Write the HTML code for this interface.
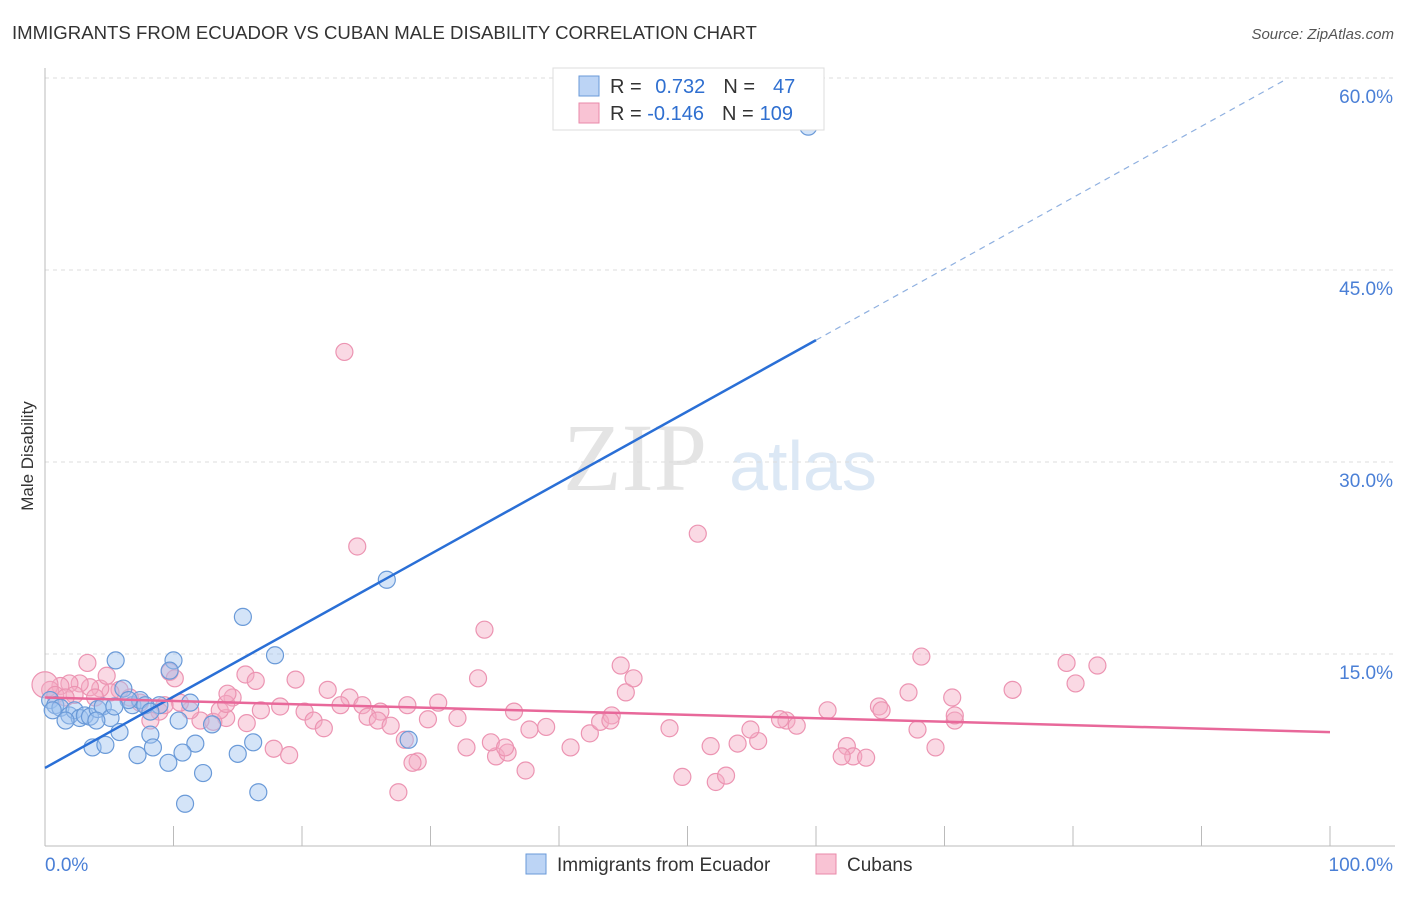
<!DOCTYPE html>
<html><head><meta charset="utf-8">
<style>
body{margin:0;background:#fff;font-family:"Liberation Sans",sans-serif;}
</style></head>
<body>
<svg id="chart" width="1406" height="892" xmlns="http://www.w3.org/2000/svg" font-family="Liberation Sans, sans-serif">
<text x="12" y="39" font-size="18.6" fill="#333">IMMIGRANTS FROM ECUADOR VS CUBAN MALE DISABILITY CORRELATION CHART</text>
<text x="1394" y="39" font-size="15" fill="#555" text-anchor="end" font-style="italic">Source: ZipAtlas.com</text>
<text transform="translate(33,456) rotate(-90)" font-size="17" fill="#333" text-anchor="middle">Male Disability</text>
<g>
<text x="635" y="490" font-size="96" fill="#e4e4e4" style="font-family:'Liberation Serif',serif" text-anchor="middle">ZIP</text>
<text x="803" y="490" font-size="70" fill="#dce8f5" text-anchor="middle">atlas</text>
</g>
<g id="grid"></g>
<g id="axes"></g>
<g id="pts"></g>
<g id="lines"></g>
<g>
<rect x="553" y="68" width="271" height="62" fill="#fff" stroke="#ddd"/>
<rect x="579" y="76" width="20" height="20" fill="#bcd4f5" stroke="#6a9ad8"/>
<rect x="579" y="103" width="20" height="20" fill="#f9c3d4" stroke="#e98aaa"/>
<text x="610" y="93" font-size="20" fill="#333">R = <tspan fill="#2f6fd0" dx="8">0.732</tspan><tspan dx="18" fill="#333">N =</tspan><tspan dx="18" fill="#2f6fd0">47</tspan></text>
<text x="610" y="120" font-size="20" fill="#333">R = <tspan fill="#2f6fd0">-0.146</tspan><tspan dx="18" fill="#333">N =</tspan><tspan dx="6" fill="#2f6fd0">109</tspan></text>
</g>
<g>
<rect x="526" y="854" width="20" height="20" fill="#bcd4f5" stroke="#6a9ad8"/>
<text x="557" y="871" font-size="19" fill="#333">Immigrants from Ecuador</text>
<rect x="816" y="854" width="20" height="20" fill="#f9c3d4" stroke="#e98aaa"/>
<text x="847" y="871" font-size="19" fill="#333">Cubans</text>
</g>
</svg>
<script>
const yTicks=[15,30,45,60];
const yTickLabels=["15.0%","30.0%","45.0%","60.0%"];
const xTickLabels=["0.0%","100.0%"];
const blueX=[59.4,26.6,15.4,17.9,5.5,10.0,9.7,6.1,0.4,0.8,1.2,1.9,2.3,2.7,3.1,3.5,4.1,4.5,5.1,5.8,6.8,7.4,8.2,8.9,10.4,11.7,10.7,8.4,3.7,4.7,7.2,9.6,12.3,15.0,16.2,28.3,16.6,10.9,0.6,1.6,6.5,7.8,13.0,11.3,4.0,8.2,5.4];
const blueY=[56.2,20.8,17.9,14.9,14.5,14.5,13.7,12.3,11.4,11.0,10.8,10.2,10.6,10.0,10.2,10.1,10.7,10.9,10.0,8.9,11.0,11.4,8.7,11.0,9.8,8.0,7.3,7.7,7.7,7.9,7.1,6.5,5.7,7.2,8.1,8.3,4.2,3.3,10.6,9.8,11.4,11.0,9.5,11.2,9.8,10.5,10.9];
const pinkX=[23.3,50.8,24.3,34.2,68.2,79.5,81.9,44.8,3.3,9.7,15.6,16.4,19.5,22.0,23.7,24.7,26.1,28.2,30.6,33.7,36.5,37.7,40.9,42.4,43.2,44.1,45.2,45.8,48.6,51.8,53.9,55.5,57.7,58.5,60.9,64.9,67.2,70.6,75.3,80.2,70.8,67.9,69.3,62.4,62.9,63.9,62.0,49.6,52.2,53.0,37.4,35.1,36.0,29.0,28.6,27.5,17.8,19.0,15.7,14.1,13.1,12.1,11.3,10.5,8.9,7.4,6.6,5.8,5.1,4.3,3.5,2.7,1.9,1.2,0.4,0.0,0.8,2.3,3.9,8.2,9.3,13.6,14.6,16.8,18.3,20.2,20.9,21.7,23.0,25.1,25.9,26.9,28.0,29.8,32.1,32.8,34.7,35.8,39.0,44.0,54.9,57.2,65.1,70.8,10.1,14.1,1.6,4.8,14.2];
const pinkY=[38.6,24.4,23.4,16.9,14.8,14.3,14.1,14.1,14.3,13.6,13.4,12.9,13.0,12.2,11.6,11.0,10.5,11.0,11.2,13.1,10.5,9.1,7.7,8.8,9.7,10.2,12.0,13.1,9.2,7.8,8.0,8.2,9.8,9.4,10.6,10.9,12.0,11.6,12.2,12.7,9.8,9.1,7.7,7.8,7.0,6.9,7.0,5.4,5.0,5.5,5.9,7.0,7.3,6.6,6.5,4.2,7.6,7.1,9.6,10.0,9.7,9.8,10.6,11.2,10.5,11.2,11.6,12.2,12.0,12.3,12.4,12.7,12.7,12.5,12.2,12.6,11.8,11.8,11.6,9.8,11.0,10.6,11.6,10.6,10.9,10.5,9.8,9.2,11.0,10.1,9.8,9.4,8.3,9.9,10.0,7.7,8.1,7.7,9.3,9.8,9.1,9.9,10.6,10.2,13.1,11.1,11.6,13.3,11.9];
const blueTrend=[6.1,0.557];
const pinkTrend=[11.6,-0.027];
const NS="http://www.w3.org/2000/svg";
const X0=45,X1=1330,Y0=846,PY=12.8;
const sx=v=>X0+(X1-X0)*v/100;
const sy=v=>Y0-v*PY;
function mk(tag,attrs,parent){const e=document.createElementNS(NS,tag);for(const k in attrs)e.setAttribute(k,attrs[k]);parent.appendChild(e);return e;}
const grid=document.getElementById('grid'),axes=document.getElementById('axes'),pts=document.getElementById('pts'),lines=document.getElementById('lines');
yTicks.forEach((t,i)=>{
 const g=mk('line',{x1:45,x2:1395,y1:sy(t),y2:sy(t),stroke:'#ddd','stroke-dasharray':'4,4'},grid);
 
 
 const l=mk('text',{x:1393,y:sy(t)+25,'font-size':19,fill:'#4a7fd6','text-anchor':'end'},axes);
 l.textContent=yTickLabels[i];
 
 
});
const ax=mk('line',{x1:45,x2:45,y1:68,y2:846,stroke:'#bbb'},axes);


const bx=mk('line',{x1:45,x2:1395,y1:846,y2:846,stroke:'#bbb'},axes);


for(let i=0;i<=10;i++){
 const t=mk('line',{x1:sx(i*10),x2:sx(i*10),y1:826,y2:846,stroke:'#bbb'},axes);
 
 
}
[[0,'start',45],[100,'end',1393]].forEach((d,i)=>{
 const l=mk('text',{x:d[2],y:871,'font-size':19,fill:'#4a7fd6','text-anchor':d[1]},axes);
 l.textContent=xTickLabels[i];
 
 
});
pinkX.forEach((x,i)=>{
 const c=mk('circle',{cx:sx(x),cy:sy(pinkY[i]),r:(x===0?13:8.5),fill:'rgba(245,170,195,0.45)',stroke:'#ec94b2','stroke-width':1.2},pts);
 
 
});
blueX.forEach((x,i)=>{
 const c=mk('circle',{cx:sx(x),cy:sy(blueY[i]),r:8.5,fill:'rgba(160,195,240,0.45)',stroke:'#6a9ad8','stroke-width':1.2},pts);
 
 
});
const bl=mk('line',{x1:sx(0),y1:sy(blueTrend[0]),x2:sx(60),y2:sy(blueTrend[0]+blueTrend[1]*60),stroke:'#2a6fd6','stroke-width':2.5},lines);


const bd=mk('line',{x1:sx(60),y1:sy(blueTrend[0]+blueTrend[1]*60),x2:sx(96.5),y2:sy(blueTrend[0]+blueTrend[1]*96.5),stroke:'#8fb0e0','stroke-width':1.2,'stroke-dasharray':'6,5'},lines);


const pl=mk('line',{x1:sx(0),y1:sy(pinkTrend[0]),x2:sx(100),y2:sy(pinkTrend[0]+pinkTrend[1]*100),stroke:'#e8689a','stroke-width':2.5},lines);


</script>
</body></html>
